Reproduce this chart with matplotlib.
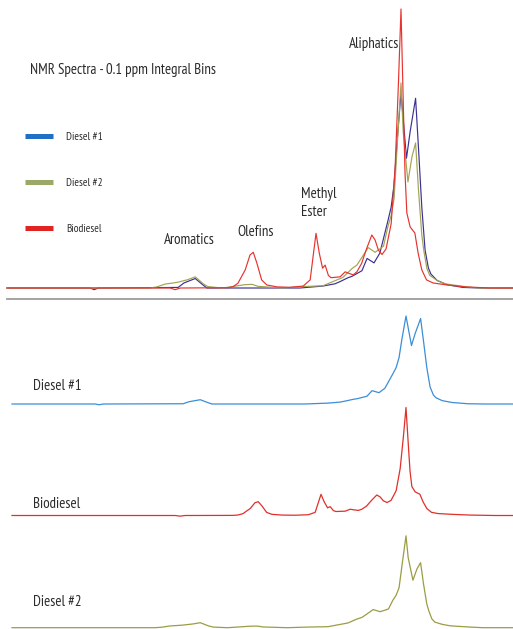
import matplotlib
matplotlib.use("Agg")
import matplotlib.pyplot as plt
from matplotlib.lines import Line2D
from matplotlib.textpath import TextPath
from matplotlib.font_manager import FontProperties

# ---------------- data (chemical shift in ppm, integral intensity in %) ----------------
diesel1_ppm = [12.10, 9.82, 9.71, 9.60, 7.41, 7.25, 6.94, 6.72, 6.62, 4.07, 3.44, 3.11, 2.97,
               2.75, 2.64, 2.37, 2.23, 2.04, 1.88, 1.66, 1.57, 1.49, 1.41, 1.30, 1.15, 1.05,
               0.90, 0.82, 0.73, 0.64, 0.55, 0.48, 0.31, 0.04, -0.40, -0.86, -1.77]
diesel1_int = [0, 0, -0.6, 0, 0.2, 1.8, 3.4, 1.0, 0, 0, 0.7, 1.5, 2.3,
               3.7, 4.2, 6.2, 10.6, 9.0, 12.5, 24, 29, 37, 52, 70, 46.5, 56,
               68, 50, 29, 13.6, 7.2, 5.0, 2.7, 1.2, 0.2, 0, 0]

diesel2_ppm = [12.10, 8.18, 7.99, 7.77, 7.55, 7.41, 7.14, 6.94, 6.72, 6.59, 6.20, 5.93, 5.57,
               5.38, 5.22, 4.56, 4.01, 3.44, 3.11, 2.89, 2.64, 2.51, 2.37, 2.20, 2.01, 1.88,
               1.78, 1.66, 1.57, 1.49, 1.40, 1.30, 1.24, 1.11, 1.00, 0.90, 0.82, 0.73, 0.67,
               0.59, 0.51, 0.31, 0.09, -0.40, -0.81, -1.77]
diesel2_int = [0, 0, 0.4, 1.4, 1.8, 2.1, 3.0, 4.0, 1.5, 0.5, 0, 0.5, 1.2,
               1.3, 0.6, 0, 0.5, 0.8, 2.6, 3.8, 7.0, 8.2, 11, 14.5, 12.8, 14,
               15, 22, 26, 32, 52, 73.5, 56, 38, 47, 52, 35, 19, 13,
               7, 4.5, 2.7, 1.5, 0.6, 0, 0]

biodiesel_ppm = [12.10, 7.63, 7.49, 7.35, 6.04, 5.90, 5.77, 5.57, 5.44, 5.35, 5.25, 5.12, 4.98,
                 4.70, 4.34, 3.98, 3.79, 3.63, 3.54, 3.45, 3.38, 3.29, 3.22, 2.97, 2.83, 2.74,
                 2.61, 2.51, 2.38, 2.24, 2.10, 2.01, 1.92, 1.82, 1.71, 1.57, 1.46, 1.37, 1.30,
                 1.24, 1.19, 1.14, 1.05, 0.92, 0.83, 0.73, 0.60, 0.42, 0.05, -0.45, -1.14, -1.77]
biodiesel_int = [0, 0, -0.6, 0, 0.1, 0.5, 1.7, 6.5, 11.8, 12.8, 8.9, 2.9, 1.1,
                 0.4, 0.25, 0.7, 2.9, 19.6, 12.5, 7.1, 8.2, 4.5, 3.7, 4.0, 5.8, 5.3,
                 4.7, 5.8, 8.8, 14.2, 19.0, 17.2, 13.6, 12.0, 14.0, 23, 43.4, 73.5, 100,
                 67.4, 41.2, 26.9, 21.9, 19.7, 12.5, 6.5, 2.9, 1.8, 1.1, 0.4, 0, 0]

series_names = ["Diesel #1", "Diesel #2", "Biodiesel"]
region_labels = ["Aromatics", "Olefins", "Methyl\nEster", "Aliphatics"]
title_text = "NMR Spectra - 0.1 ppm Integral Bins"

# ---------------- styling ----------------
W, H = 513, 629
FONT = ["PT Sans Narrow", "Roboto Condensed", "Liberation Sans"]
TXT = "#2b2b2b"

# size the narrow font so the title spans ~184 px like the reference
_w = TextPath((0, 0), title_text, size=10, prop=FontProperties(family=FONT)).get_extents().width
FS = 10 * (184 / (_w * 100 / 72))
LEG_FS = FS * 35 / 46

top_colors = {"Diesel #1": "#3a3192", "Diesel #2": "#a3a352", "Biodiesel": "#e6332e"}
low_colors = {"Diesel #1": "#3b8ed8", "Diesel #2": "#9c9c45", "Biodiesel": "#e0302a"}
leg_colors = {"Diesel #1": "#1f6fc6", "Diesel #2": "#9aaa66", "Biodiesel": "#e02424"}

fig = plt.figure(figsize=(W / 100, H / 100), dpi=100)
fig.patch.set_facecolor("white")


def rect(x0, y0, x1, y1):
    return [x0 / W, 1 - y1 / H, (x1 - x0) / W, (y1 - y0) / H]


def bare(ax):
    ax.set_xticks([])
    ax.set_yticks([])
    for s in ax.spines.values():
        s.set_visible(False)
    ax.patch.set_visible(False)


XLIM = (12.10, -1.77)

# ---------------- top overlay panel ----------------
ax = fig.add_axes(rect(7, 0, 513, 299))
bare(ax)
ax.spines["bottom"].set_visible(True)
ax.spines["bottom"].set_color("#9c9c9c")
ax.spines["bottom"].set_linewidth(1.3)
ax.set_xlim(*XLIM)
ax.set_ylim(-(299 - 288) / 2.79, 288 / 2.79)

data = {"Diesel #1": (diesel1_ppm, diesel1_int),
        "Diesel #2": (diesel2_ppm, diesel2_int),
        "Biodiesel": (biodiesel_ppm, biodiesel_int)}
for name in series_names:
    xs, ys = data[name]
    ax.plot(xs, ys, color=top_colors[name], lw=0.85, clip_on=False)

fs_px = LEG_FS * 100 / 72
handles = [Line2D([], [], color=leg_colors[n], lw=3.6, solid_capstyle="butt") for n in series_names]
ax.legend(handles, series_names, loc="upper left", bbox_to_anchor=(25 / W, 1 - 132 / H),
          bbox_transform=fig.transFigure, frameon=False,
          prop={"family": FONT, "size": LEG_FS}, labelcolor=TXT,
          handlelength=28 / fs_px, handletextpad=13 / fs_px, labelspacing=36 / fs_px,
          borderpad=0, borderaxespad=0)


def ftext(x, y, s, **kw):
    fig.text(x / W, 1 - y / H, s, family=FONT, fontsize=FS, color=TXT,
             ha="left", va="center", **kw)


ftext(30, 70, title_text)
ftext(164, 240, region_labels[0])
ftext(237, 232, region_labels[1])
ftext(301, 203, region_labels[2], linespacing=1.3)
ftext(349, 44, region_labels[3])

# ---------------- stacked single spectra ----------------
panels = [
    ("Diesel #1", rect(12, 300, 518, 410), 404.0, 1.257, 386),
    ("Biodiesel", rect(12, 400, 518, 520), 515.5, 1.08, 504),
    ("Diesel #2", rect(12, 520, 518, 629), 627.7, 1.25, 602),
]
for name, r, base_px, scale, label_y in panels:
    a = fig.add_axes(r)
    bare(a)
    a.set_xlim(*XLIM)
    y0_px = (1 - r[1] - r[3]) * H
    y1_px = (1 - r[1]) * H
    a.set_ylim(-(y1_px - base_px) / scale, (base_px - y0_px) / scale)
    xs, ys = data[name]
    a.plot(xs, ys, color=low_colors[name], lw=0.9, clip_on=False)
    ftext(33, label_y, name)

fig.savefig("out.png", dpi=100, facecolor="white")
